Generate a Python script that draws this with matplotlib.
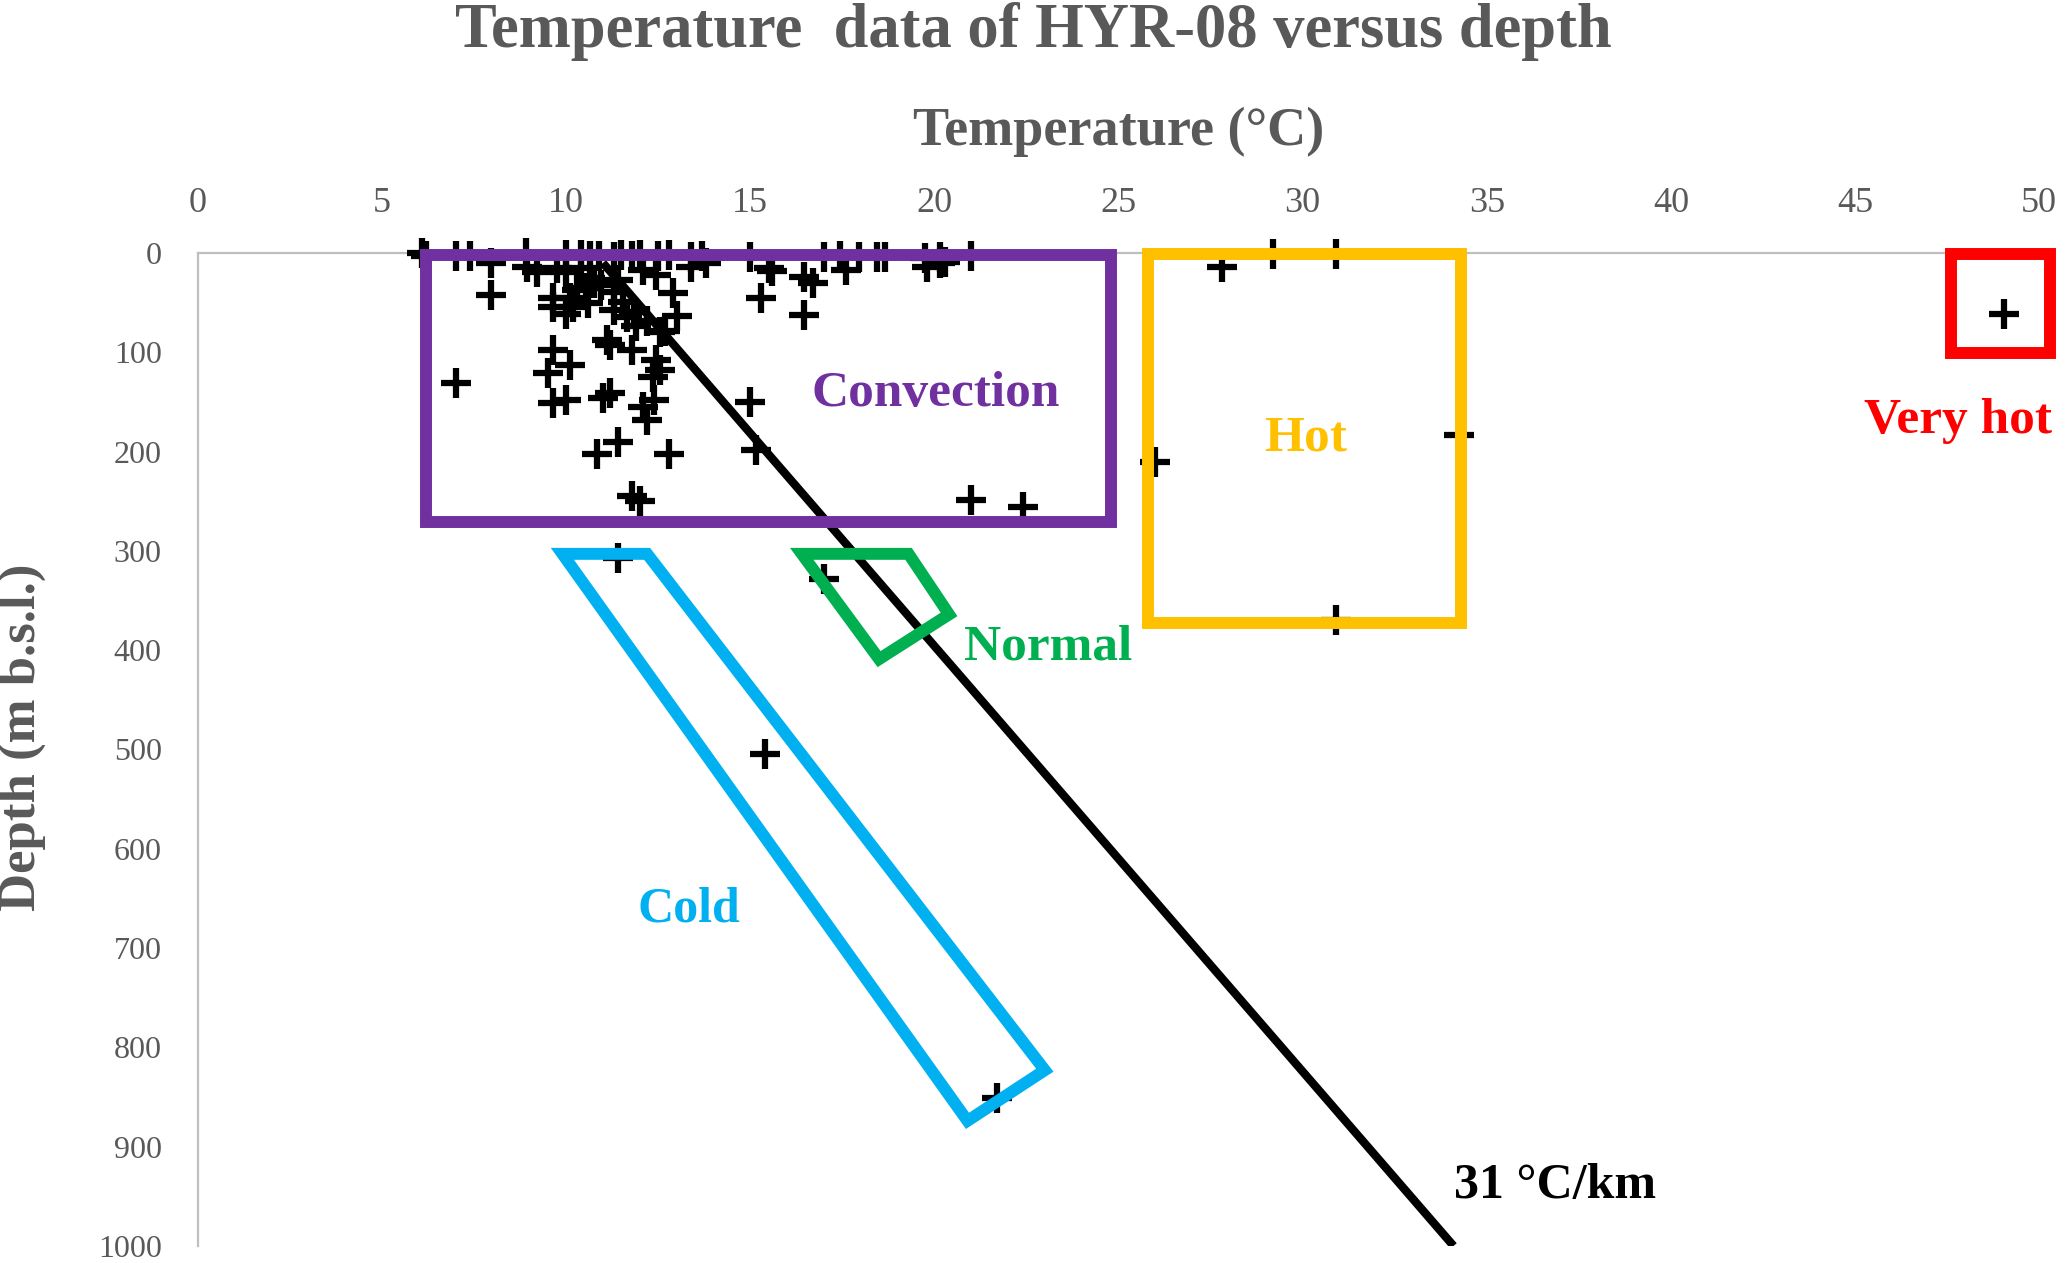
import matplotlib.pyplot as plt
from matplotlib.patches import Polygon

# temperature (degC) and depth (m b.s.l.)
temp = [6.1, 6.2, 7.0, 7.4, 8.9, 10.0, 10.4, 10.65, 10.9, 11.3, 11.5, 11.8, 12.0, 12.5,
        12.8, 13.4, 13.7, 15.0, 17.0, 17.45, 17.95, 18.45, 18.65, 19.75, 20.15, 21.0,
        7.95, 8.95, 9.2, 9.75, 10.0, 10.4, 10.65, 10.55, 12.1, 12.45, 11.4, 10.75, 10.3,
        13.4, 13.8, 15.5, 15.6, 16.45, 16.7, 17.6, 19.8, 20.15, 20.3,
        7.95, 9.65, 10.1, 10.2, 12.9, 13.0, 15.3, 16.45, 11.1, 10.95, 11.3, 11.55, 11.85,
        12.2, 12.55, 11.65, 11.9, 9.65, 10.0, 10.6, 11.3, 12.7, 11.2, 11.8, 9.65, 10.1,
        9.5, 12.45, 12.55, 12.35, 7.0,
        9.65, 10.0, 11.0, 11.2, 12.1, 12.4, 12.2, 10.85, 11.4, 12.8, 11.8, 12.0, 15.0,
        15.15, 21.0, 22.4,
        26.0, 27.8, 29.2, 30.9, 34.25, 30.9, 49.05, 11.4, 17.0, 15.4, 21.7]
depth = [0, 3, 3, 3, 0, 2, 2, 3, 3, 4, 2, 3, 2, 3,
         2, 4, 3, 4, 4, 3, 4, 4, 4, 5, 4, 3,
         10, 14, 19, 15, 19, 15, 25, 35, 17, 22, 27, 30, 37,
         14, 10, 15, 18, 24, 30, 17, 14, 10, 9,
         42, 45, 45, 54, 40, 63, 45, 62, 88, 32, 39, 49, 59,
         69, 80, 64, 74, 54, 61, 50, 57, 79, 93, 98, 98, 113,
         121, 108, 118, 125, 131,
         151, 148, 146, 141, 155, 148, 168, 202, 190, 202, 245, 250, 150,
         198, 249, 256,
         210, 14, 1, 1, 183, 370, 61, 307, 328, 505, 851]

# 31 degC/km reference line
grad_temp = [11.0, 34.1]
grad_depth = [10, 1000]

# zone outlines (temperature, depth)
convection = [(6.2, 2), (24.8, 2), (24.8, 271), (6.2, 271)]
hot = [(25.8, 1), (34.3, 1), (34.3, 373), (25.8, 373)]
very_hot = [(47.6, 1), (50.3, 1), (50.3, 101), (47.6, 101)]
cold = [(9.9, 303), (12.2, 303), (23.0, 823), (20.9, 874)]
normal = [(16.4, 303), (19.3, 303), (20.4, 364), (18.5, 409)]

gray = "#595959"
plt.rcParams["font.family"] = ["Liberation Serif", "DejaVu Serif"]

fig = plt.figure(figsize=(20.67, 12.63), dpi=100)
ax = fig.add_axes([0.0957, 0.0135, 0.8908, 0.7862])

ax.plot(temp, depth, linestyle="none", marker="+", color="black",
        markersize=21, markeredgewidth=4.5, clip_on=False, zorder=3)
ax.plot(grad_temp, grad_depth, color="black", linewidth=6, zorder=2,
        solid_capstyle="butt")

zones = [(convection, "#7030A0"), (hot, "#FFC000"), (very_hot, "#FF0000"),
         (cold, "#00B0F0"), (normal, "#00B050")]
for verts, col in zones:
    ax.add_patch(Polygon(verts, closed=True, fill=False, edgecolor=col,
                         linewidth=8.6, joinstyle="miter", clip_on=False, zorder=4))

ax.text(20.05, 142, "Convection", color="#7030A0", fontsize=37, fontweight="bold",
        ha="center", va="center")
ax.text(30.07, 187, "Hot", color="#FFC000", fontsize=37, fontweight="bold",
        ha="center", va="center")
ax.text(47.8, 169, "Very hot", color="#FF0000", fontsize=37, fontweight="bold",
        ha="center", va="center")
ax.text(23.1, 397, "Normal", color="#00B050", fontsize=37, fontweight="bold",
        ha="center", va="center")
ax.text(13.35, 661, "Cold", color="#00B0F0", fontsize=36, fontweight="bold",
        ha="center", va="center")
ax.text(34.1, 940, "31 \u00b0C/km", color="black", fontsize=36, fontweight="bold",
        ha="left", va="center")

ax.set_xlim(0, 50)
ax.set_ylim(1000, 0)
ax.set_xticks(range(0, 51, 5))
ax.set_yticks(range(0, 1001, 100))
ax.xaxis.tick_top()
ax.tick_params(axis="x", length=0, pad=24, labelsize=26, labelcolor=gray)
ax.tick_params(axis="y", length=0, pad=26, labelsize=23, labelcolor=gray)
for s in ["right", "bottom"]:
    ax.spines[s].set_visible(False)
for s in ["top", "left"]:
    ax.spines[s].set_color("#BFBFBF")
    ax.spines[s].set_linewidth(1.6)

ax.xaxis.set_label_position("top")
ax.set_xlabel("Temperature (\u00b0C)", fontsize=39, fontweight="bold", color=gray,
              va="center")
ax.xaxis.set_label_coords(0.5, 1.122)
ax.set_ylabel("Depth (m b.s.l.)", fontsize=38, fontweight="bold", color=gray,
              va="center", ha="center")
ax.yaxis.set_label_coords(-0.0954, 0.512)

fig.suptitle("Temperature  data of HYR-08 versus depth", fontsize=45,
             fontweight="bold", color=gray, y=0.975, va="center")

fig.savefig("out.png", dpi=100)
